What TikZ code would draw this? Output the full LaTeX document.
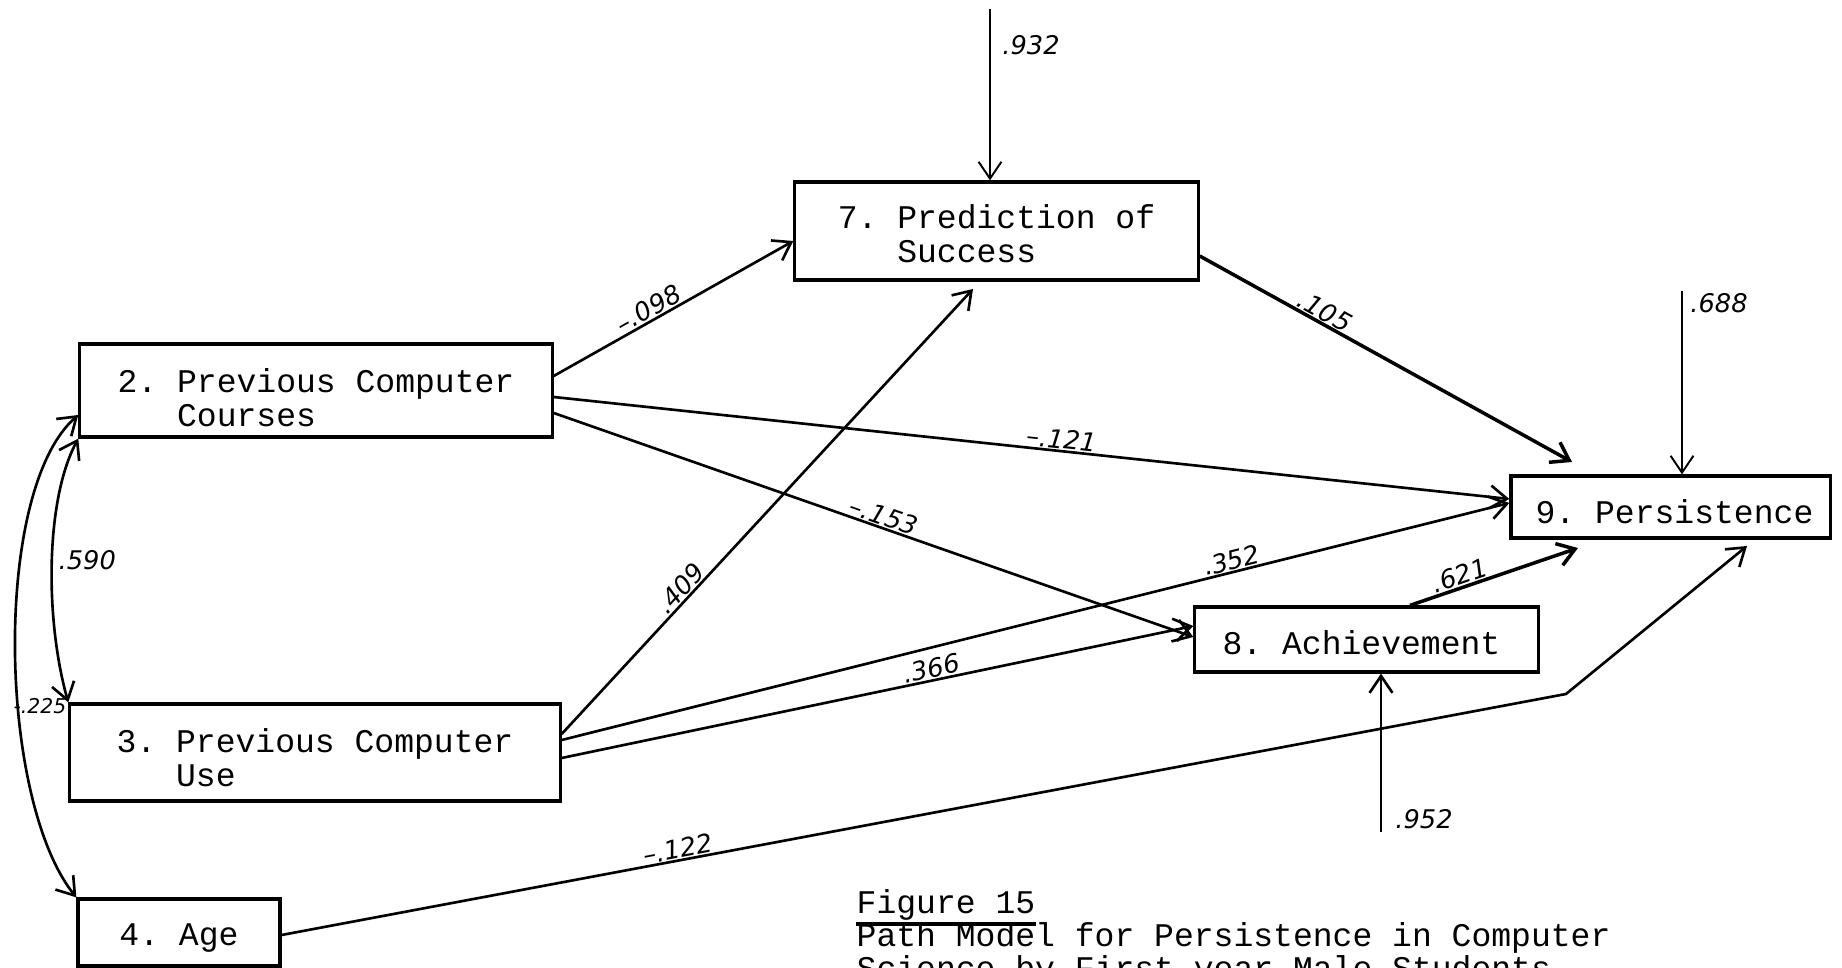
\documentclass[tikz,border=0pt]{standalone}
\usepackage{fontspec}
\setmonofont{Liberation Mono}
\newfontfamily\hand{DejaVu Sans}
\usetikzlibrary{arrows.meta}
\begin{document}
\begin{tikzpicture}[x=0.01cm,y=-0.01cm,
  box/.style={draw, line width=0.9pt, inner sep=0pt},
  txt/.style={inner sep=0pt, align=left,
    font=\ttfamily\fontsize{9.4pt}{9.6pt}\selectfont},
  captxt/.style={inner sep=0pt, anchor=base west,
    font=\ttfamily\fontsize{9.4pt}{9.4pt}\selectfont},
  arr/.style={line width=0.75pt, -{Straight Barb[length=4.8pt,width=6.5pt]}},
  heavyarr/.style={line width=1pt, -{Straight Barb[length=4.8pt,width=6.5pt]}},
  thinarr/.style={line width=0.55pt, -{Straight Barb[length=4.8pt,width=6.5pt]}},
  darr/.style={line width=0.75pt, {Straight Barb[length=4.8pt,width=6.5pt]}-{Straight Barb[length=4.8pt,width=6.5pt]}},
  lbl/.style={inner sep=0pt, font=\hand\itshape\fontsize{7.3pt}{7.3pt}\selectfont},
  onl/.style={lbl, sloped, above=0.3pt}]
\useasboundingbox (0,0) rectangle (1842,968);
\clip (0,0) rectangle (1842,968);

% boxes
\node[box, minimum width=4.72cm, minimum height=0.93cm] (b2) at (316,390.5) {};
\node[box, minimum width=4.90cm, minimum height=0.97cm] (b3) at (315,752.5) {};
\node[box, minimum width=2.02cm, minimum height=0.67cm] (b4) at (179,932.5) {};
\node[box, minimum width=4.03cm, minimum height=0.98cm] (b7) at (996.5,231) {};
\node[box, minimum width=3.43cm, minimum height=0.65cm] (b8) at (1366.5,639.5) {};
\node[box, minimum width=3.19cm, minimum height=0.62cm] (b9) at (1670.5,507) {};

% box texts
\node[txt] (b2t) at ([yshift=-0.07cm]b2.center) {2. Previous Computer\\\phantom{2. }Courses};
\node[txt] (b3t) at ([yshift=-0.05cm]b3.center) {3. Previous Computer\\\phantom{3. }Use};
\node[txt] (b4t) at ([yshift=-0.06cm]b4.center) {4. Age};
\node[txt] (b7t) at ([yshift=-0.03cm]b7.center) {7. Prediction of\\\phantom{7. }Success};
\node[txt] (b8t) at ([yshift=-0.03cm,xshift=-0.05cm]b8.center) {8. Achievement};
\node[txt] (b9t) at ([yshift=-0.05cm,xshift=0.04cm]b9.center) {9. Persistence};

% free ends
\coordinate (s932) at (990,9);
\coordinate (s688) at (1682,291);
\coordinate (s952) at (1381,832);
\coordinate (t105) at (1572,462);
\coordinate (t409) at (973,289);
\coordinate (t621) at (1578,548);
\coordinate (k122) at (1566,694);
\coordinate (t122) at (1747,546);

% paths with labels
\draw[arr] (b2.east |- 0,376) -- node[onl, pos=0.42] (l098) {\textendash.098} (b7.west |- 0,241);
\draw[heavyarr] (b7.east |- 0,256) -- node[onl, pos=0.32] (l105) {.105} (t105);
\draw[arr] (b2.east |- 0,397) -- node[onl, pos=0.53] (l121) {\textendash.121} (b9.west |- 0,499);
\draw[arr] (b2.east |- 0,413) -- node[onl, pos=0.51] (l153) {\textendash.153} (b8.west |- 0,637);
\draw[arr] (b3.east |- 0,734) -- node[onl, pos=0.31] (l409) {.409} (t409);
\draw[arr] (b3.east |- 0,740) -- node[onl, pos=0.71] (l352) {.352} (b9.west |- 0,503);
\draw[arr] (b3.east |- 0,758) -- node[onl, pos=0.59] (l366) {.366} (b8.west |- 0,626);
\draw[heavyarr] (b8.north -| 1410,0) -- node[onl, pos=0.32] (l621) {.621} (t621);
\draw[arr] (b4.east |- 0,935) -- node[onl, pos=0.31] (l122) {\textendash.122} (k122) -- (t122);
\draw[thinarr] (s932) -- (b7.north -| 990,0);
\draw[thinarr] (s688) -- (b9.north -| 1682,0);
\draw[arr] (s952) -- (b8.south -| 1381,0);
\draw[darr] (b2.south west) .. controls (45,500) and (45,620) .. (b3.north west);
\draw[darr] (b2.west |- 0,415) .. controls (-8,490) and (-2,800) .. (b4.north west);

% free labels
\node[lbl] (l932) at (1031,45) {.932};
\node[lbl] (l688) at (1719,303) {.688};
\node[lbl] (l952) at (1424,819) {.952};
\node[lbl, anchor=west] (l590) at (58,560) {.590};
\node[inner sep=0pt, anchor=east, font=\hand\itshape\fontsize{5.8pt}{5.8pt}\selectfont]
  (l225) at (67,706) {-.225};

% caption
\node[captxt] (c1) at (856,914) {Figure 15};
\draw[line width=1.4pt] ([yshift=-0.1cm]c1.base west) -- ([yshift=-0.1cm]c1.base east);
\node[captxt] (c2) at (856,947) {Path Model for Persistence in Computer};
\node[captxt] (c3) at (856,980) {Science by First-year Male Students};
\end{tikzpicture}
\end{document}
